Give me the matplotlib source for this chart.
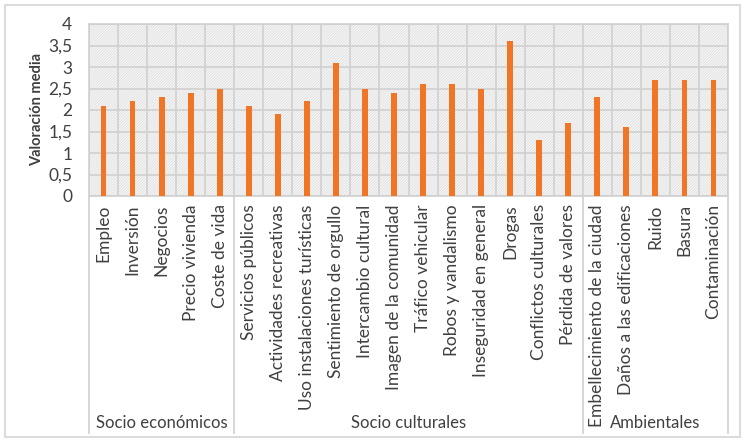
import matplotlib.pyplot as plt
import matplotlib.transforms as mtransforms
from matplotlib.patches import Rectangle

# DATA
categories = ["Empleo", "Inversión", "Negocios", "Precio vivienda", "Coste de vida",
              "Servicios públicos", "Actividades recreativas", "Uso instalaciones turísticas",
              "Sentimiento de orgullo", "Intercambio cultural", "Imagen de la comunidad",
              "Tráfico vehicular", "Robos y vandalismo", "Inseguridad en general", "Drogas",
              "Conflictos culturales", "Pérdida de valores",
              "Embellecimiento de la ciudad", "Daños a las edificaciones", "Ruido", "Basura",
              "Contaminación"]
values = [2.1, 2.2, 2.3, 2.4, 2.5,
          2.1, 1.9, 2.2, 3.1, 2.5, 2.4, 2.6, 2.6, 2.5, 3.6, 1.3, 1.7,
          2.3, 1.6, 2.7, 2.7, 2.7]
groups = ["Socio económicos", "Socio culturales", "Ambientales"]
group_sizes = [5, 12, 5]
yticks = [0, 0.5, 1, 1.5, 2, 2.5, 3, 3.5, 4]
ytick_labels = ["0", "0,5", "1", "1,5", "2", "2,5", "3", "3,5", "4"]

plt.rcParams['font.family'] = ['Lato', 'DejaVu Sans']
plt.rcParams['hatch.linewidth'] = 0.5
grid_col = '#d0d0d0'
text_col = '#404040'

fig = plt.figure(figsize=(7.44, 4.41), dpi=100)
fig.patches.append(Rectangle((5 / 744, 4 / 441), 735 / 744, 432 / 441, transform=fig.transFigure,
                             fill=False, edgecolor='#dcdcdc', linewidth=1.5))
ax = fig.add_axes([89 / 744, 1 - 196 / 441, 639 / 744, 172 / 441])

n = len(categories)
x = list(range(n))

# hatched background
ax.add_patch(Rectangle((-0.5, 0), n, 4, facecolor='#f6f6f6', edgecolor='#dcdcdc',
                       hatch='/' * 12, linewidth=0, zorder=0))
for yv in yticks:
    ax.axhline(yv, color=grid_col, linewidth=1.2, zorder=1)
for i in range(n + 1):
    ax.axvline(i - 0.5, color=grid_col, linewidth=1.2, zorder=1)

ax.bar(x, values, width=0.2, color='#f07525', zorder=3)

ax.set_xlim(-0.5, n - 0.5)
ax.set_ylim(0, 4)
ax.set_yticks(yticks)
ax.set_yticklabels(ytick_labels, fontsize=12.5, color=text_col)
ax.set_xticks(x)
ax.set_xticklabels(categories, rotation=90, fontsize=12.5, color=text_col)
ax.tick_params(axis='both', length=0)
ax.tick_params(axis='x', pad=6)
ax.tick_params(axis='y', pad=12)
for s in ax.spines.values():
    s.set_color(grid_col)
    s.set_linewidth(1.2)
ax.set_ylabel("Valoración media", fontsize=10.5, fontweight='bold', color=text_col, labelpad=3)

# group separators and labels below the axis
trans = mtransforms.blended_transform_factory(ax.transData, ax.transAxes)
line_bottom = -(433 - 196) / 172
label_y = -(423 - 196) / 172
start = 0
bounds = [-0.5]
for g, size in zip(groups, group_sizes):
    end = start + size
    bounds.append(end - 0.5)
    ax.text((start + end - 1) / 2, label_y, g, transform=trans, ha='center', va='center',
            fontsize=12, color=text_col)
    start = end
for b in bounds:
    ax.plot([b, b], [0, line_bottom], transform=trans, color=grid_col, linewidth=1.2, clip_on=False)

fig.savefig("out.png", dpi=100)
